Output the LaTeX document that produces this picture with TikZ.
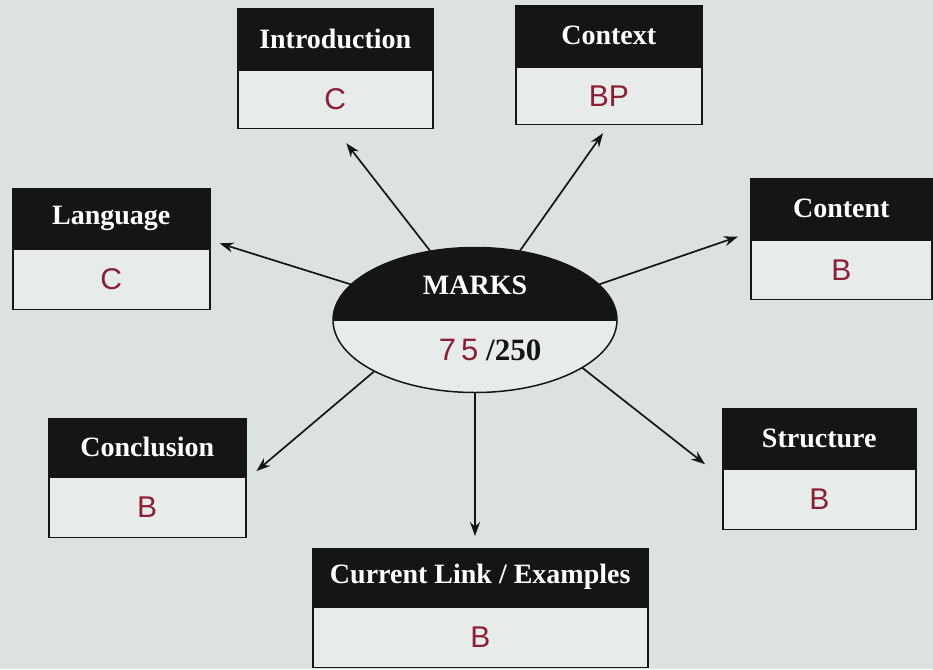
\documentclass[tikz,border=0pt]{standalone}
\usepackage{fontspec}
\setmainfont{Liberation Serif}
\newfontfamily\hand{Liberation Sans}
\usetikzlibrary{shapes.geometric,arrows.meta,calc}
\definecolor{paper}{HTML}{DCE2E2}
\definecolor{cell}{HTML}{E7ECEB}
\definecolor{ink}{HTML}{151515}
\definecolor{pen}{HTML}{8A1F33}
\begin{document}
\begin{tikzpicture}[x=1pt,y=-1pt,
  headbox/.style={draw=ink, fill=ink, line width=1.5pt, text=white,
    font=\fontsize{28}{30}\selectfont\bfseries, inner sep=0pt, anchor=north west},
  valbox/.style={draw=ink, fill=cell, line width=1.5pt, text=pen,
    font=\hand\fontsize{30}{32}\selectfont, inner sep=0pt, anchor=north west},
  arr/.style={draw=ink, line width=1.7pt, -{Stealth[length=14pt,width=10pt]}}]
\useasboundingbox (0,0) rectangle (933,669);
\fill[paper] (0,0) rectangle (933,669);

% Introduction
\node[headbox, minimum width=195pt, minimum height=60pt] (introh) at (237,8) {Introduction};
\node[valbox, minimum width=195pt, minimum height=58pt] (introv) at (introh.south west) {C};
% Context
\node[headbox, minimum width=186pt, minimum height=60pt] (conh) at (515,5) {Context};
\node[valbox, minimum width=186pt, minimum height=57pt] (conv) at (conh.south west) {BP};
% Language
\node[headbox, minimum width=197pt, minimum height=59pt] (langh) at (12,188) {Language};
\node[valbox, minimum width=197pt, minimum height=60pt] (langv) at (langh.south west) {C};
% Content
\node[headbox, minimum width=181pt, minimum height=60pt] (conth) at (750,178) {Content};
\node[valbox, minimum width=181pt, minimum height=59pt] (contv) at (conth.south west) {B};
% Conclusion
\node[headbox, minimum width=197pt, minimum height=57pt] (conclh) at (48,418) {Conclusion};
\node[valbox, minimum width=197pt, minimum height=60pt] (conclv) at (conclh.south west) {B};
% Structure
\node[headbox, minimum width=193pt, minimum height=59pt] (structh) at (722,408) {Structure};
\node[valbox, minimum width=193pt, minimum height=60pt] (structv) at (structh.south west) {B};
% Current Link / Examples
\node[headbox, minimum width=335pt, minimum height=57pt] (curh) at (312,548) {Current Link / Examples};
\node[valbox, minimum width=335pt, minimum height=60pt] (curv) at (curh.south west) {B};

% MARKS ellipse
\node[ellipse, fill=cell, minimum width=284pt, minimum height=145pt, inner sep=0pt] (m) at (475,320) {};
\fill[ink] (m.west) arc[start angle=180, end angle=0, x radius=142pt, y radius=72.5pt] -- cycle;
\draw[ink, line width=1.5pt] (m.center) ellipse [x radius=142pt, y radius=72.5pt];
\draw[ink, line width=1.5pt] (m.west) -- (m.east);
\node[text=white, font=\fontsize{28}{30}\selectfont\bfseries] (mk) at (475,285) {MARKS};
\node[font=\fontsize{31}{33}\selectfont\bfseries, text=ink] (score) at (490,350)
  {{\hand\mdseries\color{pen}7\,5}\ /250};

% connectors
\draw[arr, shorten >=18pt] (m.123) -- (introv.south);
\draw[arr, shorten >=10pt] (m.57) -- (conv.south);
\draw[arr, shorten >=9.5pt] (m.164) -- ($(langh.south east)+(0pt,8pt)$);
\draw[arr, shorten >=12.7pt] (m.16) -- ($(conth.south west)+(0pt,7pt)$);
\draw[arr, shorten >=13pt] (m.207) -- ($(conclv.north east)+(0pt,-3pt)$);
\draw[arr, shorten >=21.5pt] (m.336) -- ($(structv.north west)+(0pt,-9pt)$);
\draw[arr, shorten >=12pt] (m.south) -- (m.south |- curh.north);
\end{tikzpicture}
\end{document}
